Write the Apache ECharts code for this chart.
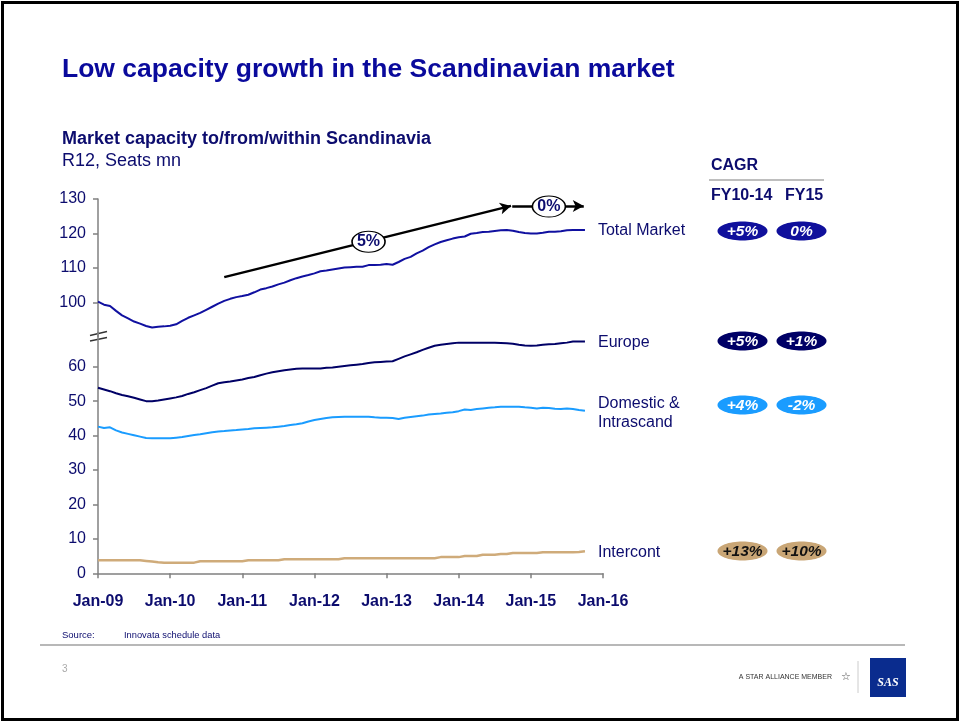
<!DOCTYPE html>
<html>
<head>
<meta charset="utf-8">
<script src="https://cdn.jsdelivr.net/npm/echarts@6/dist/echarts.min.js"></script>
<style>html,body{margin:0;padding:0;background:#fff}#c{width:960px;height:722px}</style>
</head>
<body>
<div id="c"></div>
<script>
// ---- DATA (monthly, R12 seats mn, Jan-09 .. Oct-15) ----
const xTickLabels = ['Jan-09','Jan-10','Jan-11','Jan-12','Jan-13','Jan-14','Jan-15','Jan-16'];
const seriesNames = ['Total Market','Europe','Domestic &\nIntrascand','Intercont'];
const totalMarket = [100.2,99.3,98.9,97.5,96.2,95.3,94.4,93.8,93.1,92.7,92.9,93.0,
  93.2,93.6,94.6,95.5,96.2,96.9,97.8,98.7,99.6,100.4,101.0,101.5,
  101.8,102.2,102.9,103.7,104.1,104.6,105.2,105.7,106.4,107.0,107.5,107.9,
  108.4,109.0,109.2,109.5,109.8,110.1,110.2,110.3,110.3,110.8,110.8,110.9,
  111.1,110.9,111.7,112.6,113.2,114.2,115.0,116.0,116.8,117.5,118.0,118.5,
  118.9,119.1,119.9,120.1,120.4,120.5,120.7,120.9,121.0,120.8,120.4,120.1,
  120.0,120.0,120.2,120.5,120.5,120.6,120.9,121.0,121.0,121.0];
const europe = [53.9,53.4,52.9,52.3,51.8,51.4,51.0,50.5,50.0,50.0,50.2,50.5,
  50.8,51.1,51.5,52.1,52.6,53.2,53.8,54.5,55.2,55.5,55.7,56.0,
  56.3,56.7,57.0,57.5,58.0,58.4,58.7,59.0,59.2,59.4,59.5,59.5,
  59.5,59.5,59.7,59.8,60.0,60.2,60.4,60.6,60.8,61.1,61.3,61.4,
  61.5,61.6,62.3,63.0,63.6,64.2,64.9,65.5,66.1,66.4,66.6,66.8,
  67.0,67.0,67.0,67.0,67.0,67.0,67.0,66.9,66.8,66.7,66.4,66.2,
  66.1,66.2,66.4,66.5,66.6,66.8,67.0,67.3,67.3,67.3];
const domestic = [42.6,42.2,42.4,41.5,40.9,40.5,40.1,39.7,39.3,39.2,39.2,39.2,
  39.2,39.4,39.6,39.9,40.2,40.4,40.7,41.0,41.2,41.3,41.5,41.6,
  41.8,41.9,42.1,42.2,42.3,42.4,42.6,42.8,43.1,43.3,43.6,44.1,
  44.5,44.8,45.1,45.3,45.4,45.5,45.5,45.5,45.5,45.5,45.3,45.2,
  45.2,45.1,44.8,45.2,45.4,45.6,45.8,46.1,46.3,46.4,46.6,46.8,
  47.1,47.6,47.4,47.7,47.9,48.1,48.2,48.4,48.4,48.4,48.4,48.2,
  48.1,47.9,48.1,48.0,47.8,47.7,47.9,47.7,47.4,47.2];
const intercont = [3.8,3.8,3.8,3.8,3.8,3.8,3.8,3.8,3.6,3.4,3.2,3.1,
  3.1,3.1,3.1,3.1,3.1,3.5,3.5,3.5,3.5,3.5,3.5,3.5,
  3.5,3.8,3.8,3.8,3.8,3.8,3.8,4.1,4.1,4.1,4.1,4.1,
  4.1,4.1,4.1,4.1,4.1,4.4,4.4,4.4,4.4,4.4,4.4,4.4,
  4.4,4.4,4.4,4.4,4.4,4.4,4.4,4.4,4.4,4.7,4.7,4.7,
  4.7,5.0,5.0,5.0,5.4,5.4,5.4,5.6,5.6,5.9,5.9,5.9,
  5.9,5.9,6.1,6.1,6.1,6.1,6.1,6.1,6.2,6.4];
const upperTicks = [100,110,120,130];
const lowerTicks = [0,10,20,30,40,50,60];
const cagrHeaders = ['CAGR','FY10-14','FY15'];
const cagrFY1014 = ['+5%','+5%','+4%','+13%'];
const cagrFY15 = ['0%','+1%','-2%','+10%'];
const trendLabels = ['5%','0%'];
// trend arrows (month index, value)
const trend5 = [[21,107.3],[68.7,128.0]];
const trend0 = [[68.9,128.0],[80.8,128.0]];
const trendLabelPos = [[45.0,117.6],[75.0,127.8]];

// ---- STYLE ----
const FONT = '"Liberation Sans", Arial, sans-serif';
const NAVY = '#0c0c6e';
const colors = ['#1010a0','#000066','#1a9cff','#cfab7a'];
const pillColors = ['#10109c','#000066','#1a9cff','#c9a676'];
const pillText = ['#fff','#fff','#fff','#111'];
const pillY = [231,341,405,551];

const toPairs = arr => arr.map((v,i)=>[i,v]);
const ellipsePath = 'path://M0,50 A50,50 0 1,1 100,50 A50,50 0 1,1 0,50 Z';

const chart = echarts.init(document.getElementById('c'), null, {renderer:'canvas'});

const yAxisBase = {
  type:'value',
  axisLine:{show:true,lineStyle:{color:'#808080',width:1.5}},
  axisTick:{show:true,length:5,lineStyle:{color:'#808080',width:1.5}},
  splitLine:{show:false},
  axisLabel:{color:NAVY,fontSize:16,fontFamily:FONT,margin:12}
};

const endLbl = (i, off) => ({
  show:true, formatter: seriesNames[i], color:NAVY, fontSize:16, fontFamily:FONT,
  distance:13, lineHeight:19, align:'left', offset: off || [0,0]
});

const graphics = [];
// frame
graphics.push({type:'rect',shape:{x:2.5,y:2.5,width:955,height:717},style:{fill:'none',stroke:'#000',lineWidth:3},silent:true});
// title
graphics.push({type:'text',style:{x:62,y:70,text:'Low capacity growth in the Scandinavian market',font:'bold 26.5px '+FONT,fill:'#0a0a9c',verticalAlign:'middle'}});
graphics.push({type:'text',style:{x:62,y:139,text:'Market capacity to/from/within Scandinavia',font:'bold 18px '+FONT,fill:NAVY,verticalAlign:'middle'}});
graphics.push({type:'text',style:{x:62,y:161,text:'R12, Seats mn',font:'18px '+FONT,fill:NAVY,verticalAlign:'middle'}});
// CAGR header
graphics.push({type:'text',style:{x:711,y:166,text:cagrHeaders[0],font:'bold 16px '+FONT,fill:NAVY,verticalAlign:'middle'}});
graphics.push({type:'line',shape:{x1:709,y1:180,x2:824,y2:180},style:{stroke:'#a8a8a8',lineWidth:1.5}});
graphics.push({type:'text',style:{x:711,y:196,text:cagrHeaders[1],font:'bold 16px '+FONT,fill:NAVY,verticalAlign:'middle'}});
graphics.push({type:'text',style:{x:785,y:196,text:cagrHeaders[2],font:'bold 16px '+FONT,fill:NAVY,verticalAlign:'middle'}});
// pills
for (let i=0;i<4;i++){
  [[742.5,cagrFY1014[i]],[801.5,cagrFY15[i]]].forEach(([cx,t])=>{
    graphics.push({type:'ellipse',shape:{cx:cx,cy:pillY[i],rx:25,ry:9.5},style:{fill:pillColors[i]}});
    graphics.push({type:'text',style:{x:cx,y:pillY[i]+0.5,text:t,font:'italic bold 15.5px '+FONT,fill:pillText[i],align:'center',verticalAlign:'middle'}});
  });
}
// axis break marks
graphics.push({type:'line',shape:{x1:90,y1:335.5,x2:107,y2:331.5},style:{stroke:'#333',lineWidth:1.3}});
graphics.push({type:'line',shape:{x1:90,y1:341,x2:107,y2:337.5},style:{stroke:'#333',lineWidth:1.3}});
// footer
graphics.push({type:'text',style:{x:62,y:635,text:'Source:',font:'9.5px '+FONT,fill:NAVY,verticalAlign:'middle'}});
graphics.push({type:'text',style:{x:124,y:635,text:'Innovata schedule data',font:'9.3px '+FONT,fill:NAVY,verticalAlign:'middle'}});
graphics.push({type:'line',shape:{x1:40,y1:645,x2:905,y2:645},style:{stroke:'#a0a0a0',lineWidth:1.5}});
graphics.push({type:'text',style:{x:62,y:669,text:'3',font:'10px '+FONT,fill:'#aaaaaa',verticalAlign:'middle'}});
graphics.push({type:'text',style:{x:832,y:677,text:'A STAR ALLIANCE MEMBER',font:'7px '+FONT,fill:'#333',align:'right',verticalAlign:'middle'}});
graphics.push({type:'text',style:{x:846,y:677,text:'☆',font:'11px "DejaVu Sans"',fill:'#555',align:'center',verticalAlign:'middle'}});
graphics.push({type:'line',shape:{x1:858,y1:661,x2:858,y2:693},style:{stroke:'#cccccc',lineWidth:1}});
graphics.push({type:'rect',shape:{x:870,y:658,width:36,height:39},style:{fill:'#0a2c8e'}});
graphics.push({type:'text',style:{x:888,y:683,text:'SAS',font:'italic bold 12px "Liberation Serif", serif',fill:'#fff',align:'center',verticalAlign:'middle'}});

const option = {
  animation:false,
  backgroundColor:'#fff',
  grid:[
    {left:98,right:357,top:199,height:137.7},
    {left:98,right:357,top:332.3,height:241}
  ],
  xAxis:[
    {gridIndex:0,type:'value',min:0,max:84,show:false},
    {gridIndex:1,type:'value',min:0,max:84,interval:12,
     axisLine:{show:true,lineStyle:{color:'#808080',width:1.5}},
     axisTick:{show:true,length:5,lineStyle:{color:'#808080',width:1.5}},
     splitLine:{show:false},
     axisLabel:{color:NAVY,fontSize:16,fontWeight:'bold',fontFamily:FONT,margin:20,
       formatter:v=>xTickLabels[Math.round(v/12)]||''}}
  ],
  yAxis:[
    Object.assign({},yAxisBase,{gridIndex:0,min:90,max:130,
      axisTick:Object.assign({},yAxisBase.axisTick,{customValues:upperTicks}),
      axisLabel:Object.assign({},yAxisBase.axisLabel,{customValues:upperTicks})}),
    Object.assign({},yAxisBase,{gridIndex:1,min:0,max:70,
      axisTick:Object.assign({},yAxisBase.axisTick,{customValues:lowerTicks}),
      axisLabel:Object.assign({},yAxisBase.axisLabel,{customValues:lowerTicks})})
  ],
  series:[
    {name:'Total Market',type:'line',xAxisIndex:0,yAxisIndex:0,data:toPairs(totalMarket),
     showSymbol:false,lineStyle:{color:colors[0],width:2},itemStyle:{color:colors[0]},
     endLabel:endLbl(0,[0,1]),z:3,
     markLine:{silent:true,symbol:['none','arrow'],symbolSize:[9,11],
       lineStyle:{color:'#000',width:2.5,type:'solid'},label:{show:false},
       data:[[{coord:trend5[0]},{coord:trend5[1]}],[{coord:trend0[0]},{coord:trend0[1]}]]}
    },
    {name:'Trend labels',type:'scatter',xAxisIndex:0,yAxisIndex:0,z:10,
     data:trendLabelPos.map((p,i)=>({value:p,name:trendLabels[i]})),
     symbol:ellipsePath,symbolSize:[33,21],silent:true,
     itemStyle:{color:'#fff',borderColor:'#000',borderWidth:1.3,opacity:1},
     label:{show:true,position:'inside',formatter:p=>p.name,color:NAVY,fontSize:16,fontWeight:'bold',fontFamily:FONT}
    },
    {name:'Europe',type:'line',xAxisIndex:1,yAxisIndex:1,data:toPairs(europe),
     showSymbol:false,lineStyle:{color:colors[1],width:2},itemStyle:{color:colors[1]},endLabel:endLbl(1,[0,1])},
    {name:'Domestic',type:'line',xAxisIndex:1,yAxisIndex:1,data:toPairs(domestic),
     showSymbol:false,lineStyle:{color:colors[2],width:2},itemStyle:{color:colors[2]},endLabel:endLbl(2,[0,2])},
    {name:'Intercont',type:'line',xAxisIndex:1,yAxisIndex:1,data:toPairs(intercont),
     showSymbol:false,lineStyle:{color:colors[3],width:2.5},itemStyle:{color:colors[3]},endLabel:endLbl(3,[0,1])}
  ],
  graphic:graphics
};
chart.setOption(option);
</script>
</body>
</html>
